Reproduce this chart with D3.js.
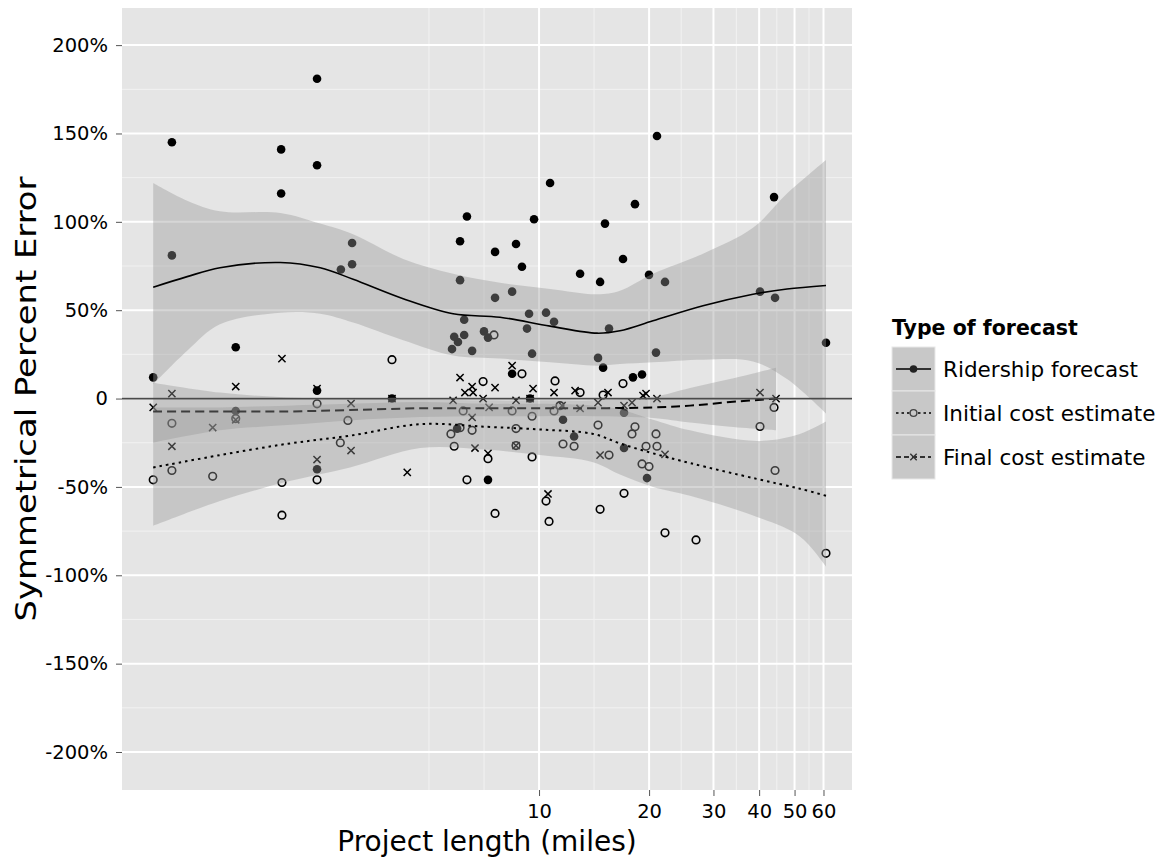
<!DOCTYPE html>
<html>
<head>
<meta charset="utf-8">
<script src="https://cdn.jsdelivr.net/npm/d3@7"></script>
<style>
  body { margin: 0; background: #fff; }
  text { font-family: "DejaVu Sans", sans-serif; fill: #000; }
</style>
</head>
<body>
<script>
// Project length (miles) and symmetrical percent error, one pair of arrays per forecast type
const ridershipLen = [0.88, 0.99, 0.99, 1.48, 1.48, 1.97, 1.97, 2.47, 2.47, 2.47, 2.47, 2.87, 3.08, 3.08, 3.96,
    5.78, 5.86, 5.97, 6.00, 6.08, 6.08, 6.24, 6.24, 6.35, 6.56, 7.07, 7.25, 7.25, 7.58, 7.58, 8.44, 8.44, 8.65,
    8.98, 9.27, 9.39, 9.45, 9.57, 9.69, 10.45, 10.72, 10.99, 11.63, 12.47, 12.95, 14.50, 14.69, 14.97, 15.15,
    15.54, 16.97, 17.08, 17.08, 18.07, 18.30, 19.13, 19.74, 19.99, 20.89, 21.02, 22.11, 40.22, 43.94, 44.22, 60.95];
const ridershipErr = [12, 145, 81, 29, -7, 141, 116, 181, 132, 4.5, -40, 73, 88, 76, 0,
    28, 35, -17, 32, 89, 67, 44.6, 36, 103, 27, 38, 34.5, -46, 83, 57, 60.5, 14, 87.5,
    74.6, 39.6, 48, 0, 25.4, 101.5, 48.6, 122, 43.5, -12, -21.5, 70.6, 23, 66, 17.5, 99,
    39.6, 79, -8, -28, 12, 110, 13.6, -45, 70, 26, 148.6, 66, 60.5, 114, 57, 31.6];

const initialLen = [0.88, 0.99, 0.99, 1.28, 1.48, 1.98, 1.98, 2.47, 2.47, 2.86, 3.00, 3.96, 5.74, 5.86, 6.08,
    6.20, 6.35, 6.56, 7.03, 7.25, 7.53, 7.58, 8.44, 8.65, 8.65, 8.98, 9.57, 9.57, 10.45, 10.65, 10.99, 11.06,
    11.41, 11.63, 12.47, 12.95, 14.50, 14.69, 14.97, 15.54, 16.97, 17.08, 17.96, 18.30, 19.13, 19.62, 19.99,
    20.89, 21.02, 22.11, 26.88, 40.22, 43.94, 44.22, 60.95];
const initialErr = [-46, -40.7, -14, -44, -11.3, -47.5, -66, -46, -3, -25, -12.4, 22, -20, -27, -16.5,
    -7, -46, -18, 9.6, -34, 36, -65, -7, -17, -26.6, 14, -10, -33, -58, -69.5, -7, 10,
    -4, -25.7, -27, 3.4, -15, -62.7, 2, -32, 8.5, -53.6, -20, -16, -37, -27, -38.5,
    -20, -27, -76, -80, -15.8, -5, -40.7, -87.6];

const finalLen = [0.88, 0.99, 0.99, 1.28, 1.48, 1.48, 1.98, 2.47, 2.47, 3.06, 3.06, 3.96, 4.36, 5.82, 6.08,
    6.27, 6.56, 6.56, 6.60, 6.68, 7.03, 7.25, 7.30, 7.58, 8.44, 8.65, 8.65, 9.45, 9.63, 10.58, 10.99, 11.56,
    12.55, 12.95, 14.50, 14.69, 15.44, 17.08, 17.96, 19.25, 19.62, 21.02, 22.11, 40.22, 44.49];
const finalErr = [-5, 2.8, -27, -16.4, 6.8, -12, 22.6, 5.6, -34.5, -2.8, -29.4, 0, -41.8, -1, 11.9,
    3.4, 6.8, -10.7, 3.4, -28, 0, -31, -5, 6.2, 18.6, -1, -26.6, 0, 5.6, -54, 3.4, -4,
    4.5, -5.6, -2.3, -32, 3.4, -4, -2.3, 1.7, 2.8, 0, -31.6, 3.4, 0];

// Smoothed fits (loess) with confidence band
const ridershipFitLen = [0.88, 1.09, 1.34, 1.96, 2.52, 3.10, 4.25, 5.82, 7.82, 10.72, 14.41, 16.65, 20.50, 28.09, 38.48, 47.68, 60.95];
const ridershipFit = [63, 69, 74, 77, 74, 67.5, 56.5, 48, 46, 41, 37, 38.4, 44, 52.5, 59, 62, 64];
const ridershipLo = [8, 27, 42, 48.6, 48, 43, 33, 24.3, 22.6, 20.5, 18.6, 19.5, 20.5, 22, 21, 11, -8.5];
const ridershipHi = [122, 112, 106, 105, 99, 93, 79, 70.6, 65.5, 62, 59, 61, 70.6, 82, 96.6, 116, 135];

const initialFitLen = [0.88, 1.34, 2.05, 3.04, 4.73, 7.21, 10.06, 14.05, 16.65, 20.50, 25.88, 39.48, 51.70, 60.95];
const initialFit = [-39, -32, -25.6, -21, -14.5, -16, -17.5, -20, -25.4, -31, -36.5, -45.5, -51, -55];
const initialLo = [-72, -58, -47, -39, -28, -29, -32, -36, -43, -50, -55, -67, -78, -95];
const initialHi = [-5, -5, -4, -3, -2, -3, -3, -4, -6, -12, -18, -24, -20, -13];

const finalFitLen = [0.88, 1.34, 2.05, 3.04, 4.73, 7.21, 10.06, 14.05, 20.50, 25.88, 33.30, 44.49];
const finalFit = [-7.3, -7.3, -7.3, -6.5, -5.5, -5.5, -5.5, -5.5, -5, -4, -2, 0];
const finalLo = [-25, -18, -15, -12.4, -10.5, -10, -10, -10, -11, -13.6, -16, -18];
const finalHi = [9, 3.4, 0.6, 0, -0.5, -1, -1, -1, 1, 6, 11, 17.5];

// Axis breaks and labels
const yBreaks = [-200, -150, -100, -50, 0, 50, 100, 150, 200];
const yLabels = ['-200%', '-150%', '-100%', '-50%', '0', '50%', '100%', '150%', '200%'];
const yMinor = [-175, -125, -75, -25, 25, 75, 125, 175];
const xBreaks = [10, 20, 30, 40, 50, 60];
const xLabels = ['10', '20', '30', '40', '50', '60'];
const xMinor = [5, 7.07, 14.14, 24.49, 34.64, 44.72, 54.77];

const seriesNames = ['Ridership forecast', 'Initial cost estimate', 'Final cost estimate'];

// Layout
const svgWidth = 1169;
const svgHeight = 859;
const panel = { left: 122, right: 852, top: 8, bottom: 790 };

const svg = d3.select('body').append('svg')
    .attr('width', svgWidth)
    .attr('height', svgHeight);

const xScale = d3.scaleLog()
    .domain([0.723, 71.8])
    .range([panel.left, panel.right]);

const yScale = d3.scaleLinear()
    .domain([-221.5, 221])
    .range([panel.bottom, panel.top]);

// Panel background and grid
svg.append('rect')
    .attr('x', panel.left)
    .attr('y', panel.top)
    .attr('width', panel.right - panel.left)
    .attr('height', panel.bottom - panel.top)
    .attr('fill', '#e5e5e5');

svg.selectAll('.y-minor')
    .data(yMinor)
    .enter().append('line')
    .attr('x1', panel.left).attr('x2', panel.right)
    .attr('y1', d => yScale(d)).attr('y2', d => yScale(d))
    .attr('stroke', '#f2f2f2').attr('stroke-width', 1);

svg.selectAll('.x-minor')
    .data(xMinor)
    .enter().append('line')
    .attr('y1', panel.top).attr('y2', panel.bottom)
    .attr('x1', d => xScale(d)).attr('x2', d => xScale(d))
    .attr('stroke', '#f2f2f2').attr('stroke-width', 1);

svg.selectAll('.y-major')
    .data(yBreaks)
    .enter().append('line')
    .attr('x1', panel.left).attr('x2', panel.right)
    .attr('y1', d => yScale(d)).attr('y2', d => yScale(d))
    .attr('stroke', '#fff').attr('stroke-width', 2);

svg.selectAll('.x-major')
    .data(xBreaks)
    .enter().append('line')
    .attr('y1', panel.top).attr('y2', panel.bottom)
    .attr('x1', d => xScale(d)).attr('x2', d => xScale(d))
    .attr('stroke', '#fff').attr('stroke-width', 2);

// Points (drawn first, smoothers go on top)
const toPoints = (lens, errs) => lens.map((l, i) => ({ len: l, err: errs[i] }));
const crossPath = (x, y, s) => `M${x - s},${y - s}L${x + s},${y + s}M${x - s},${y + s}L${x + s},${y - s}`;

svg.selectAll('.pt-ridership')
    .data(toPoints(ridershipLen, ridershipErr))
    .enter().append('circle')
    .attr('cx', d => xScale(d.len))
    .attr('cy', d => yScale(d.err))
    .attr('r', 4.3)
    .attr('fill', '#000');

svg.selectAll('.pt-initial')
    .data(toPoints(initialLen, initialErr))
    .enter().append('circle')
    .attr('cx', d => xScale(d.len))
    .attr('cy', d => yScale(d.err))
    .attr('r', 3.8)
    .attr('fill', 'none')
    .attr('stroke', '#000')
    .attr('stroke-width', 1.6);

svg.selectAll('.pt-final')
    .data(toPoints(finalLen, finalErr))
    .enter().append('path')
    .attr('d', d => crossPath(xScale(d.len), yScale(d.err), 3.6))
    .attr('stroke', '#000')
    .attr('stroke-width', 1.5);

// Smoothers: ribbon then line per group (Final, Initial, Ridership)
const area = d3.area()
    .x(d => xScale(d.len))
    .y0(d => yScale(d.lo))
    .y1(d => yScale(d.hi))
    .curve(d3.curveCatmullRom);

const line = d3.line()
    .x(d => xScale(d.len))
    .y(d => yScale(d.fit))
    .curve(d3.curveCatmullRom);

const smooths = [
    { len: finalFitLen, fit: finalFit, lo: finalLo, hi: finalHi, dash: '9,5', width: 2 },
    { len: initialFitLen, fit: initialFit, lo: initialLo, hi: initialHi, dash: '2.5,4', width: 2 },
    { len: ridershipFitLen, fit: ridershipFit, lo: ridershipLo, hi: ridershipHi, dash: null, width: 1.6 }
];

smooths.forEach(s => {
    const rows = s.len.map((l, i) => ({ len: l, fit: s.fit[i], lo: s.lo[i], hi: s.hi[i] }));
    svg.append('path')
        .datum(rows)
        .attr('d', area)
        .attr('fill', '#999')
        .attr('fill-opacity', 0.4);
    svg.append('path')
        .datum(rows)
        .attr('d', line)
        .attr('fill', 'none')
        .attr('stroke', '#000')
        .attr('stroke-width', s.width)
        .attr('stroke-dasharray', s.dash);
});

// Zero reference line
svg.append('line')
    .attr('x1', panel.left).attr('x2', panel.right)
    .attr('y1', yScale(0)).attr('y2', yScale(0))
    .attr('stroke', '#4a4a4a')
    .attr('stroke-width', 1.8);

// Axes
const yAxis = d3.axisLeft(yScale)
    .tickValues(yBreaks)
    .tickFormat((d, i) => yLabels[i])
    .tickSize(6)
    .tickPadding(8);

const yAxisG = svg.append('g')
    .attr('transform', `translate(${panel.left},0)`)
    .call(yAxis);
yAxisG.select('.domain').remove();
yAxisG.selectAll('line').attr('stroke', '#555');
yAxisG.selectAll('text').style('font-size', '19.5px').attr('fill', '#222');

const xAxis = d3.axisBottom(xScale)
    .tickValues(xBreaks)
    .tickFormat((d, i) => xLabels[i])
    .tickSize(6)
    .tickPadding(8);

const xAxisG = svg.append('g')
    .attr('transform', `translate(0,${panel.bottom})`)
    .call(xAxis);
xAxisG.select('.domain').remove();
xAxisG.selectAll('line').attr('stroke', '#555');
xAxisG.selectAll('text').style('font-size', '19.5px').attr('fill', '#222');

// Axis titles
svg.append('text')
    .attr('x', (panel.left + panel.right) / 2)
    .attr('y', 851)
    .attr('text-anchor', 'middle')
    .style('font-size', '28px')
    .text('Project length (miles)');

svg.append('text')
    .attr('transform', `translate(36,${(panel.top + panel.bottom) / 2}) rotate(-90)`)
    .attr('text-anchor', 'middle')
    .attr('textLength', 445)
    .attr('lengthAdjust', 'spacingAndGlyphs')
    .style('font-size', '28px')
    .text('Symmetrical Percent Error');

// Legend
const legend = svg.append('g')
    .attr('transform', 'translate(892,0)');

legend.append('text')
    .attr('x', 0)
    .attr('y', 335)
    .style('font-size', '20.5px')
    .style('font-weight', 'bold')
    .text('Type of forecast');

const keyDash = [null, '2.5,3', '5,3'];
seriesNames.forEach((name, i) => {
    const top = 347 + i * 44;
    const cy = top + 22;
    legend.append('rect')
        .attr('x', 0).attr('y', top)
        .attr('width', 43).attr('height', 44)
        .attr('fill', '#c8c8c8')
        .attr('stroke', '#e8e8e8')
        .attr('stroke-width', 1);
    legend.append('line')
        .attr('x1', 4).attr('x2', 39)
        .attr('y1', cy).attr('y2', cy)
        .attr('stroke', '#000')
        .attr('stroke-width', i === 0 ? 1.5 : 1.6)
        .attr('stroke-dasharray', keyDash[i]);
    if (i === 0) {
        legend.append('circle').attr('cx', 21.5).attr('cy', cy).attr('r', 3.8).attr('fill', '#222');
    } else if (i === 1) {
        legend.append('circle').attr('cx', 21.5).attr('cy', cy).attr('r', 3.4)
            .attr('fill', '#c8c8c8').attr('stroke', '#444').attr('stroke-width', 1.4);
    } else {
        legend.append('path').attr('d', crossPath(21.5, cy, 3.2))
            .attr('stroke', '#333').attr('stroke-width', 1.4);
    }
    legend.append('text')
        .attr('x', 51)
        .attr('y', cy + 8)
        .style('font-size', '21.5px')
        .text(name);
});
</script>
</body>
</html>
